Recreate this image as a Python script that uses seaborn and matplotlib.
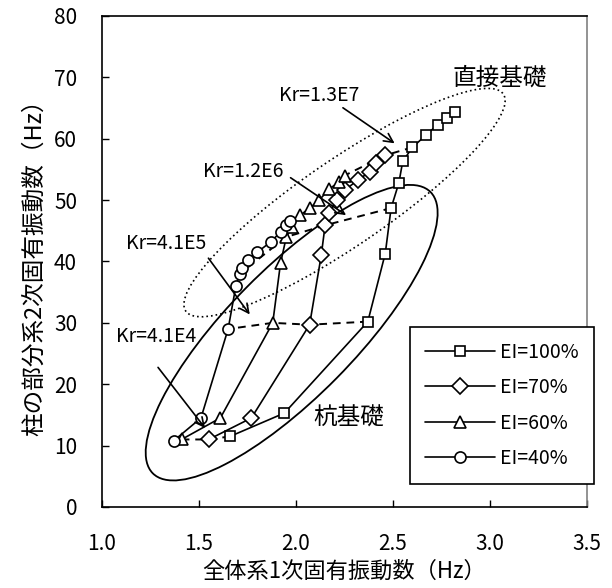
import numpy as np
import pandas as pd
import matplotlib
matplotlib.use("Agg")
import matplotlib.pyplot as plt
import seaborn as sns
from matplotlib.patches import Ellipse

# ------------------ Data ------------------
series_labels = ["EI=100%", "EI=70%", "EI=60%", "EI=40%"]
series_markers = ["s", "D", "^", "o"]
marker_sizes = [7, 8, 8, 8]

x_ei100 = [1.66, 1.94, 2.37, 2.46, 2.49, 2.53, 2.55, 2.60, 2.67, 2.73, 2.78, 2.82]
y_ei100 = [11.5, 15.3, 30.2, 41.3, 48.7, 52.8, 56.3, 58.6, 60.6, 62.3, 63.4, 64.3]

x_ei70 = [1.55, 1.77, 2.07, 2.13, 2.15, 2.17, 2.21, 2.25, 2.32, 2.38, 2.41, 2.46]
y_ei70 = [11.0, 14.5, 29.7, 41.0, 45.9, 47.9, 50.0, 51.6, 53.3, 54.6, 56.0, 57.3]

x_ei60 = [1.41, 1.61, 1.88, 1.92, 1.95, 1.98, 2.02, 2.07, 2.12, 2.17, 2.22, 2.25]
y_ei60 = [11.0, 14.5, 30.0, 39.7, 44.0, 45.7, 47.5, 48.7, 50.0, 51.8, 52.9, 54.0]

x_ei40 = [1.37, 1.51, 1.65, 1.69, 1.71, 1.72, 1.75, 1.80, 1.87, 1.92, 1.95, 1.97]
y_ei40 = [10.8, 14.5, 29.0, 36.0, 38.0, 39.0, 40.2, 41.5, 43.2, 44.8, 46.0, 46.6]

# Kr levels joined by dashed lines: index of the point in each series
kr_names = ["Kr=4.1E4", "Kr=4.1E5", "Kr=1.2E6", "Kr=1.3E7"]
kr_idx_ei100 = [0, 2, 4, 7]
kr_idx_ei70 = [0, 2, 4, 11]
kr_idx_ei60 = [0, 2, 4, 11]
kr_idx_ei40 = [0, 2, 4, None]

xs = [x_ei100, x_ei70, x_ei60, x_ei40]
ys = [y_ei100, y_ei70, y_ei60, y_ei40]
kr_idx = [kr_idx_ei100, kr_idx_ei70, kr_idx_ei60, kr_idx_ei40]

# ------------------ Style ------------------
sns.set_theme(style="ticks")
plt.rcParams["font.family"] = ["Noto Sans CJK JP", "DejaVu Sans"]
plt.rcParams["xtick.direction"] = "in"
plt.rcParams["ytick.direction"] = "in"
for key in ["text.color", "axes.labelcolor", "xtick.color", "ytick.color"]:
    plt.rcParams[key] = "black"

fig = plt.figure(figsize=(6.12, 5.88), dpi=100)
ax = fig.add_axes([0.1667, 0.1378, 0.7925, 0.835])

# ------------------ Kr dashed lines ------------------
for k in range(len(kr_names)):
    px, py = [], []
    for s in range(len(xs)):
        i = kr_idx[s][k]
        if i is not None:
            px.append(xs[s][i])
            py.append(ys[s][i])
    ax.plot(px, py, color="black", lw=1.4, ls=(0, (4, 3)), zorder=2)

# ------------------ Series ------------------
for s in range(len(xs)):
    df = pd.DataFrame({"x": xs[s], "y": ys[s]})
    sns.lineplot(data=df, x="x", y="y", ax=ax, sort=False, estimator=None,
                 color="black", lw=1.2, marker=series_markers[s],
                 markersize=marker_sizes[s],
                 markerfacecolor="white", markeredgecolor="black",
                 markeredgewidth=1.2, label=series_labels[s], zorder=3)

# ------------------ Ellipses ------------------
ax.add_patch(Ellipse((0.500, 0.620), 0.79, 0.176, angle=34, transform=ax.transAxes,
                     fill=False, ls=(0, (1, 1.8)), lw=1.2, color="black", zorder=1))
ax.add_patch(Ellipse((0.391, 0.355), 0.81, 0.262, angle=45, transform=ax.transAxes,
                     fill=False, ls="-", lw=1.3, color="black", zorder=1))

# ------------------ Annotations ------------------
arrow = dict(arrowstyle="->", color="black", lw=1.2, mutation_scale=16)
ax.annotate("", xy=(2.52, 59.0), xytext=(2.23, 65.3), arrowprops=arrow)
ax.text(2.12, 67.0, kr_names[3], fontsize=14, ha="center", va="center")
ax.annotate("", xy=(2.27, 47.3), xytext=(1.96, 53.9), arrowprops=arrow)
ax.text(1.73, 54.7, kr_names[2], fontsize=14, ha="center", va="center")
ax.annotate("", xy=(1.77, 31.0), xytext=(1.54, 40.9), arrowprops=arrow)
ax.text(1.33, 43.0, kr_names[1], fontsize=14, ha="center", va="center")
ax.annotate("", xy=(1.54, 12.5), xytext=(1.28, 23.1), arrowprops=arrow)
ax.text(1.28, 27.7, kr_names[0], fontsize=14, ha="center", va="center")

ax.text(3.05, 69.9, "直接基礎", fontsize=17, ha="center", va="center")
ax.text(2.27, 14.5, "杭基礎", fontsize=17, ha="center", va="center")

# ------------------ Axes ------------------
ax.set_xlim(1.0, 3.5)
ax.set_ylim(0, 80)
ax.set_xticks(np.arange(1.0, 3.51, 0.5))
ax.set_yticks(np.arange(0, 81, 10))
ax.set_xticklabels([f"{v:.1f}" for v in np.arange(1.0, 3.51, 0.5)])
ax.tick_params(labelsize=15, length=5, width=1, color="black")
ax.tick_params(axis="x", pad=19)
ax.tick_params(axis="y", pad=18)
ax.set_xlabel("全体系1次固有振動数（Hz）", fontsize=16, labelpad=3)
ax.set_ylabel("柱の部分系2次固有振動数（Hz）", fontsize=17, labelpad=6)
for side in ["left", "bottom", "top"]:
    ax.spines[side].set_color("black")
    ax.spines[side].set_linewidth(1.2)
ax.spines["right"].set_color("#808080")
ax.spines["right"].set_linewidth(1.2)

leg = ax.legend(loc="upper left", bbox_to_anchor=(0.670, 0.444),
                bbox_transform=fig.transFigure, fontsize=14, frameon=True,
                fancybox=False, edgecolor="black", framealpha=1,
                handlelength=3.6, handletextpad=0.3, labelspacing=0.75,
                borderpad=0.75, borderaxespad=0)
leg.get_frame().set_linewidth(1.2)

fig.savefig("out.png", dpi=100)
